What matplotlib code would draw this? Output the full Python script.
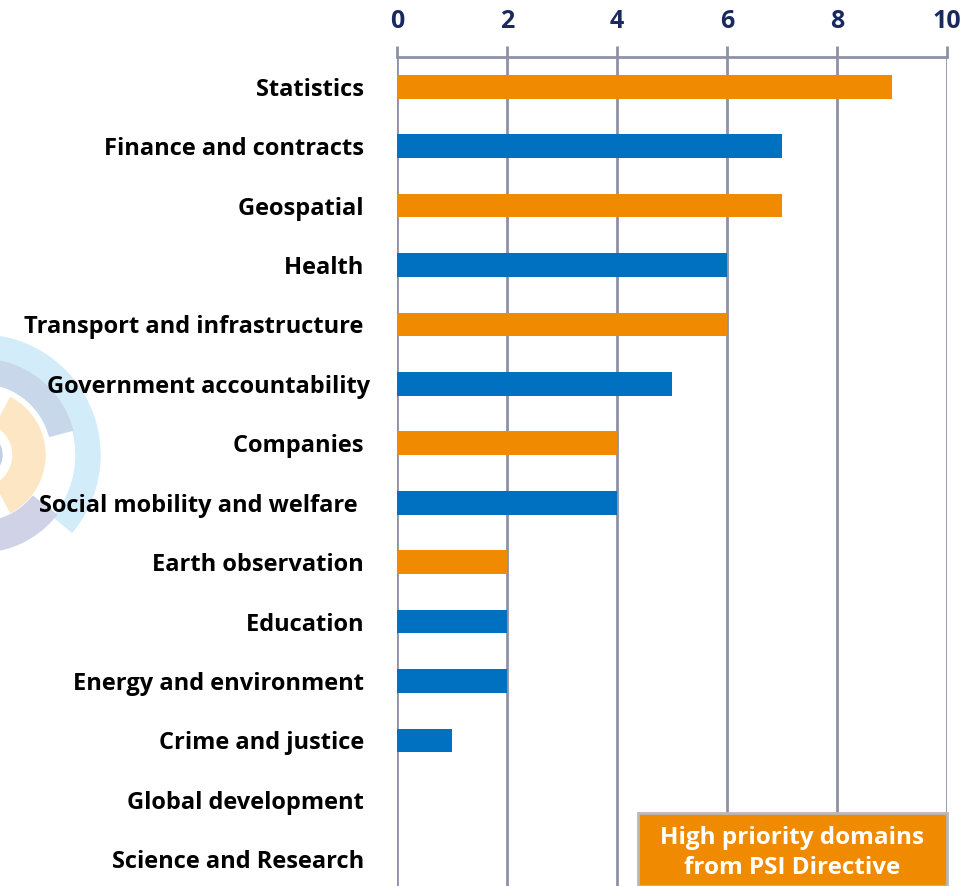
import matplotlib.pyplot as plt
from matplotlib.patches import Wedge, Circle, Rectangle

categories = [
    "Statistics ", "Finance and contracts ", "Geospatial ", "Health ",
    "Transport and infrastructure ", "Government accountability",
    "Companies ", "Social mobility and welfare  ", "Earth observation ",
    "Education ", "Energy and environment ", "Crime and justice ",
    "Global development ", "Science and Research ",
]
values = [9, 7, 7, 6, 6, 5, 4, 4, 2, 2, 2, 1, 0, 0]
high_priority = [True, False, True, False, True, False, True,
                 False, True, False, False, False, False, False]
xticks = [0, 2, 4, 6, 8, 10]

ORANGE = "#F08A00"
BLUE = "#0070C0"
GRID = "#8E90A6"
NAVY = "#1B2A5E"

plt.rcParams["font.family"] = ["Open Sans", "DejaVu Sans"]

fig = plt.figure(figsize=(9.76, 8.86), dpi=100)
W, H = 976, 886

# faint watermark logo on the left (pixel units -> inches)
cx, cy = -20 / 100, (H - 455) / 100
rings = [
    (120, 24, -40, 110, "#D3ECFA"),
    (96, 24, 15, 150, "#C9D7EA"),
    (97, 30, -112, -38, "#D0D3E8"),
    (65, 32, -62, 62, "#FDE6C4"),
]
for r, w, t1, t2, col in rings:
    fig.patches.append(Wedge((cx, cy), r / 100, t1, t2, width=w / 100,
                             color=col, transform=fig.dpi_scale_trans,
                             zorder=0))
fig.patches.append(Circle((cx, cy), 0.22, color="#C3CEE4",
                          transform=fig.dpi_scale_trans, zorder=0))

ax = fig.add_axes([397 / W, 0, 550 / W, (886 - 57) / H])
ax.set_zorder(1)
ax.patch.set_alpha(0)

ypos = list(range(len(categories)))
colors = [ORANGE if h else BLUE for h in high_priority]
ax.barh(ypos, values, height=0.4, color=colors, zorder=3)

ax.set_xlim(0, 10)
ax.set_ylim(len(categories) - 0.55, -0.5)
ax.set_xticks(xticks)
ax.xaxis.tick_top()
ax.tick_params(axis="x", direction="out", length=8, width=2, color=GRID,
               labelcolor=NAVY, labelsize=18, pad=8.5)
for lbl in ax.get_xticklabels():
    lbl.set_fontweight("bold")
ax.set_yticks(ypos)
ax.set_yticklabels(categories, fontsize=17, fontweight="bold")
ax.tick_params(axis="y", length=0, pad=19.5)
ax.grid(axis="x", color=GRID, linewidth=2, zorder=1)
for s in ["bottom", "right", "left"]:
    ax.spines[s].set_visible(False)
ax.spines["top"].set_color(GRID)
ax.spines["top"].set_linewidth(2)

# legend box
box = Rectangle((638 / W, 0), (947 - 638) / W, (886 - 813) / H,
                transform=fig.transFigure, facecolor=ORANGE,
                edgecolor="#B8B8B8", linewidth=2, zorder=5)
fig.patches.append(box)
fig.text((638 + 947) / 2 / W, 1 - 853 / H,
         "High priority domains\nfrom PSI Directive", ha="center",
         va="center", color="white", fontsize=17.5, fontweight="bold",
         linespacing=1.35, zorder=6)

fig.savefig("out.png", dpi=100)
